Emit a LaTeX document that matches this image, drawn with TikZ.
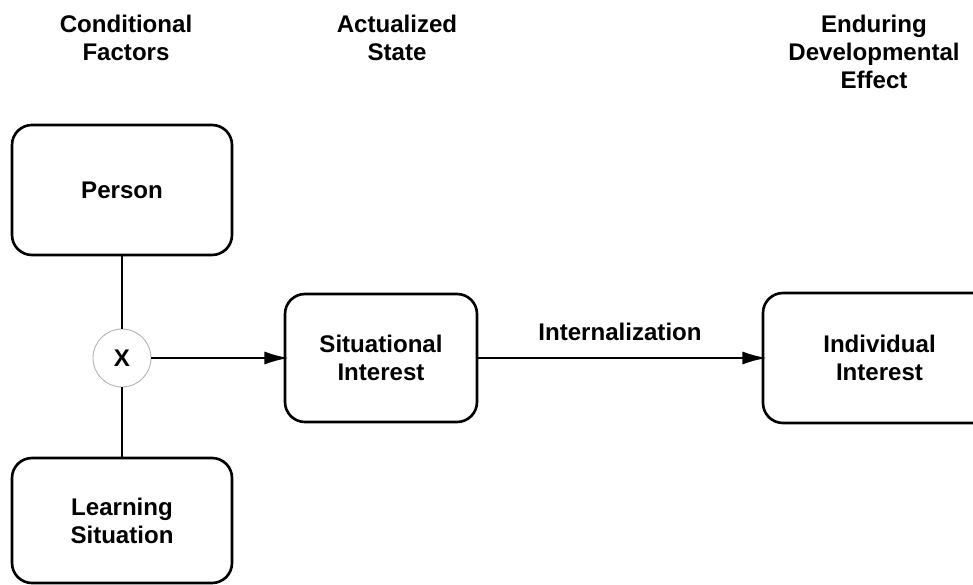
\documentclass[tikz,border=0pt]{standalone}
\usepackage{fontspec}
\setmainfont{Liberation Sans}
\usepackage{tikz}
\usetikzlibrary{positioning, arrows.meta}

\begin{document}
\begin{tikzpicture}[auto, >={Latex[length=14pt,width=7.5pt]},
	font=\bfseries\fontsize{13.7}{15.9}\selectfont,
	box/.style={draw, line width=1.5pt, rounded corners=0.4cm, align=center},
	head/.style={align=center},
	link/.style={line width=1.5pt}]
	
	\clip (0,0) rectangle (19.46,-11.7);
	
	% Column headings
	\node [head] (condhead) at (2.52,-0.76) {Conditional \\ Factors};
	\node [head] (acthead) at (7.94,-0.76) {Actualized \\ State};
	\node [head] (effhead) at (17.48,-1.04) {Enduring \\ Developmental \\ Effect};
	
	% Define nodes
	\node [box, minimum width=4.4cm, minimum height=2.6cm] (person) at (2.44,-3.8) {Person};
	\node [draw=gray!60, line width=0.5pt, circle, minimum size=1.16cm, inner sep=0pt] (times) at (2.44,-7.16) {X};
	\node [box, minimum width=4.4cm, minimum height=2.5cm] (learning) at (2.44,-10.41) {Learning \\ Situation};
	\node [box, minimum width=3.84cm, minimum height=2.56cm] (situational) at (7.62,-7.16) {Situational \\ Interest};
	\node [box, minimum width=4.66cm, minimum height=2.6cm] (individual) at (17.59,-7.16) {Individual \\ Interest};
	
	% Connections
	\draw[link] (person) -- (times);
	\draw[link] (times) -- (learning);
	\draw[link, ->, shorten >=-3pt] (times) -- (situational);
	\draw[link, ->, shorten >=-3pt] (situational) -- (individual) node[midway, above=6pt] {Internalization};
\end{tikzpicture}
\end{document}
